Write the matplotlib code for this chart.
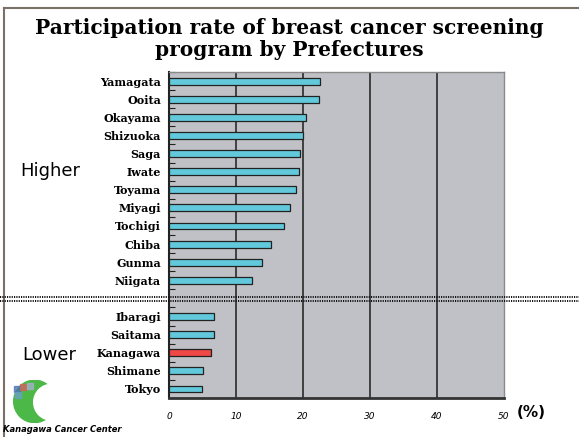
import matplotlib.pyplot as plt
import numpy as np
from matplotlib.lines import Line2D
from matplotlib.patches import Circle, Rectangle

# prefectures with higher participation (top group) and lower (bottom group)
higher_names = ["Yamagata", "Ooita", "Okayama", "Shizuoka", "Saga", "Iwate",
                "Toyama", "Miyagi", "Tochigi", "Chiba", "Gunma", "Niigata"]
higher_rates = [22.5, 22.4, 20.4, 19.9, 19.5, 19.4, 18.9, 18.0, 17.1, 15.2,
                13.8, 12.3]
lower_names = ["Ibaragi", "Saitama", "Kanagawa", "Shimane", "Tokyo"]
lower_rates = [6.7, 6.7, 6.2, 5.1, 4.9]
highlight = "Kanagawa"
x_ticks = [0, 10, 20, 30, 40, 50]

BAR = "#62c9dc"
RED = "#f04747"
BG = "#c0c1c6"

fig = plt.figure(figsize=(5.79, 4.37), dpi=100)

# outer frame lines
fig.add_artist(Line2D([0.007, 0.007], [0, 0.982], color="#7a7065", lw=1.5,
                      transform=fig.transFigure))
fig.add_artist(Line2D([0.007, 1], [0.982, 0.982], color="#7a7065", lw=1.5,
                      transform=fig.transFigure))

fig.text(0.5, 0.958, "Participation rate of breast cancer screening\n"
         "program by Prefectures", ha="center", va="top",
         fontsize=14.5, fontweight="heavy", family="DejaVu Serif",
         linespacing=1.1)

ax = fig.add_axes([0.2924, 0.0892, 0.5781, 0.746])
ax.set_facecolor(BG)

names = higher_names + lower_names
rates = higher_rates + lower_rates
# one empty slot between the two groups
pos = list(range(len(higher_names))) + \
    [len(higher_names) + 1 + i for i in range(len(lower_names))]
colors = [RED if n == highlight else BAR for n in names]

# small drop shadow then the bars
ax.barh(np.array(pos) + 0.06, np.array(rates) + 0.15, height=0.38,
        color="#555555", zorder=2)
ax.barh(pos, rates, height=0.38, color=colors, edgecolor="#222222",
        linewidth=0.9, zorder=3)

ax.set_xlim(0, 50)
ax.set_ylim(len(names) + 0.5, -0.5)
ax.set_yticks(pos)
ax.set_yticklabels(names, family="DejaVu Serif", fontweight="heavy",
                   fontsize=8)
ax.tick_params(axis="y", length=0, pad=6)
ax.set_yticks(np.arange(-0.5, len(names) + 0.5, 1), minor=True)
ax.tick_params(axis="y", which="minor", direction="in", length=4,
               width=0.8, color="#222222")

ax.set_xticks(x_ticks)
ax.set_xticklabels([str(t) for t in x_ticks], style="italic", fontsize=6.5)
ax.tick_params(axis="x", length=0, pad=10)

for t in x_ticks[1:-1]:
    ax.axvline(t, color="#2a2a2a", lw=1.2, zorder=1)

ax.spines["left"].set_color("#222222")
ax.spines["left"].set_linewidth(1.5)
ax.spines["bottom"].set_color("#333333")
ax.spines["bottom"].set_linewidth(2)
for s in ("top", "right"):
    ax.spines[s].set_color("#8a8a8a")
    ax.spines[s].set_linewidth(1)

# dotted separator between the groups
for yy in (0.3204, 0.3112):
    fig.add_artist(Line2D([0, 1], [yy, yy], color="#111111", lw=1.4,
                          linestyle=(0, (0.6, 0.6)),
                          transform=fig.transFigure, zorder=5))

fig.text(0.035, 0.608, "Higher", fontsize=13, va="center", ha="left",
         family="DejaVu Sans")
fig.text(0.038, 0.188, "Lower", fontsize=13, va="center", ha="left",
         family="DejaVu Sans")
fig.text(0.893, 0.055, "(%)", fontsize=11, va="center", ha="left",
         fontweight="bold", family="DejaVu Sans")

# logo: green crescent with a few coloured squares
lax = fig.add_axes([0.02, 0.033, 0.072, 0.097])
lax.set_xlim(0, 1)
lax.set_ylim(0, 1)
lax.axis("off")
lax.add_patch(Circle((0.55, 0.5), 0.5, color="#4cb848"))
lax.add_patch(Circle((0.95, 0.48), 0.42, color="white"))
for x0, y0, c in [(0.05, 0.72, "#4a6fb5"), (0.2, 0.78, "#d86060"),
                  (0.36, 0.8, "#a8b0d0"), (0.08, 0.58, "#6aa0c8")]:
    lax.add_patch(Rectangle((x0, y0), 0.15, 0.14, color=c, alpha=0.75))

fig.text(0.005, 0.012, "Kanagawa Cancer Center", fontsize=6,
         fontweight="heavy", style="italic", family="DejaVu Sans")

fig.savefig("out.png", dpi=100)
